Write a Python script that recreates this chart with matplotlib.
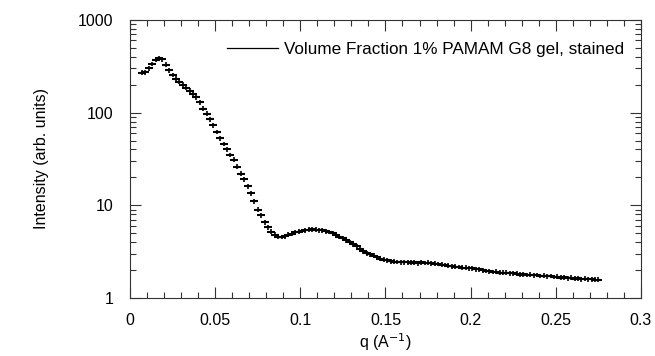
import numpy as np
import matplotlib.pyplot as plt
from matplotlib.ticker import LogLocator, MultipleLocator, FixedLocator

plt.rcParams['font.family'] = ['Liberation Sans', 'DejaVu Sans']

# scattering vector q (1/A)
q = [0.007, 0.009, 0.011, 0.013, 0.015, 0.017, 0.019, 0.021, 0.023, 0.025,
     0.027, 0.029, 0.031, 0.033, 0.035, 0.037, 0.039, 0.041, 0.043, 0.045,
     0.047, 0.049, 0.051, 0.053, 0.055, 0.057, 0.059, 0.061, 0.063, 0.065,
     0.067, 0.069, 0.071, 0.073, 0.075, 0.077, 0.079, 0.081, 0.083, 0.085,
     0.087, 0.089, 0.091, 0.093, 0.095, 0.097, 0.099, 0.101, 0.103, 0.105,
     0.107, 0.109, 0.111, 0.113, 0.115, 0.117, 0.119, 0.121, 0.123, 0.125,
     0.127, 0.129, 0.131, 0.133, 0.135, 0.137, 0.139, 0.141, 0.143, 0.145,
     0.147, 0.149, 0.151, 0.153, 0.155, 0.157, 0.159, 0.161, 0.163, 0.165,
     0.167, 0.169, 0.171, 0.173, 0.175, 0.177, 0.179, 0.181, 0.183, 0.185,
     0.187, 0.189, 0.191, 0.193, 0.195, 0.197, 0.199, 0.201, 0.203, 0.205,
     0.207, 0.209, 0.211, 0.213, 0.215, 0.217, 0.219, 0.221, 0.223, 0.225,
     0.227, 0.229, 0.231, 0.233, 0.235, 0.237, 0.239, 0.241, 0.243, 0.245,
     0.247, 0.249, 0.251, 0.253, 0.255, 0.257, 0.259, 0.261, 0.263, 0.265,
     0.267, 0.269, 0.271, 0.273, 0.275]

# intensity (arb. units)
intensity = [270, 272, 300, 335, 370, 385, 375, 330, 285, 255,
             232, 214, 200, 186, 173, 160, 146, 130, 110, 97,
             85, 73, 62, 53, 46, 40, 35, 31, 26, 22,
             19, 16, 13.5, 11, 9.0, 7.8, 6.6, 5.8, 5.2, 4.8,
             4.6, 4.55, 4.65, 4.8, 4.95, 5.1, 5.2, 5.3, 5.4, 5.45,
             5.5, 5.45, 5.4, 5.35, 5.25, 5.15, 5.0, 4.8, 4.6, 4.4,
             4.2, 4.0, 3.8, 3.6, 3.4, 3.2, 3.05, 2.95, 2.85, 2.75,
             2.65, 2.6, 2.55, 2.5, 2.47, 2.45, 2.43, 2.42, 2.44, 2.4,
             2.42, 2.38, 2.43, 2.39, 2.41, 2.38, 2.35, 2.33, 2.29, 2.27,
             2.23, 2.21, 2.17, 2.16, 2.12, 2.13, 2.09, 2.08, 2.04, 2.03,
             1.99, 1.96, 1.94, 1.91, 1.92, 1.88, 1.87, 1.87, 1.85, 1.84,
             1.83, 1.79, 1.8, 1.77, 1.78, 1.75, 1.77, 1.73, 1.74, 1.72,
             1.73, 1.69, 1.7, 1.66, 1.67, 1.64, 1.65, 1.62, 1.63, 1.6,
             1.61, 1.59, 1.6, 1.57, 1.58]

# relative error bar half-height
rel_err = 0.06

label = 'Volume Fraction 1% PAMAM G8 gel, stained'

fig = plt.figure(figsize=(6.55, 3.56), dpi=100)
ax = fig.add_axes([0.1985, 0.163, 0.78, 0.781])

I = np.array(intensity)
ax.errorbar(q, I, yerr=rel_err * I, fmt='_', color='k', ms=6, mew=1.5,
            elinewidth=1.2, capsize=0)
# legend proxy: plain line
ax.plot([], [], 'k-', lw=0.9, label=label)

ax.set_yscale('log')
ax.set_xlim(0, 0.3)
ax.set_ylim(1, 1000)
ax.xaxis.set_major_locator(FixedLocator([0, 0.05, 0.1, 0.15, 0.2, 0.25, 0.3]))
ax.set_xticklabels(['0', '0.05', '0.1', '0.15', '0.2', '0.25', '0.3'])
ax.xaxis.set_minor_locator(MultipleLocator(0.01))
ax.yaxis.set_major_locator(FixedLocator([1, 10, 100, 1000]))
ax.set_yticklabels(['1', '10', '100', '1000'])
ax.yaxis.set_minor_locator(LogLocator(base=10, subs=np.arange(2, 10)))

ax.tick_params(which='both', direction='in', top=True, right=True,
               labelsize=11.5, color='#333333')
ax.tick_params(which='major', length=8, width=0.8)
ax.tick_params(axis='x', which='major', pad=11)
ax.tick_params(axis='y', which='major', pad=12)
ax.tick_params(which='minor', length=4, width=0.8)
for s in ax.spines.values():
    s.set_color('#333333')
    s.set_linewidth(0.8)

ax.set_xlabel('q (A$^{-1}$)', fontsize=11.5, labelpad=2)
ax.set_ylabel('Intensity (arb. units)', fontsize=11.5, labelpad=21)

ax.legend(loc='center right', bbox_to_anchor=(0.967, 0.892), frameon=False,
          fontsize=12.3, handlelength=3.0, handletextpad=0.35,
          borderaxespad=0, borderpad=0)

fig.savefig('out.png', dpi=100)
